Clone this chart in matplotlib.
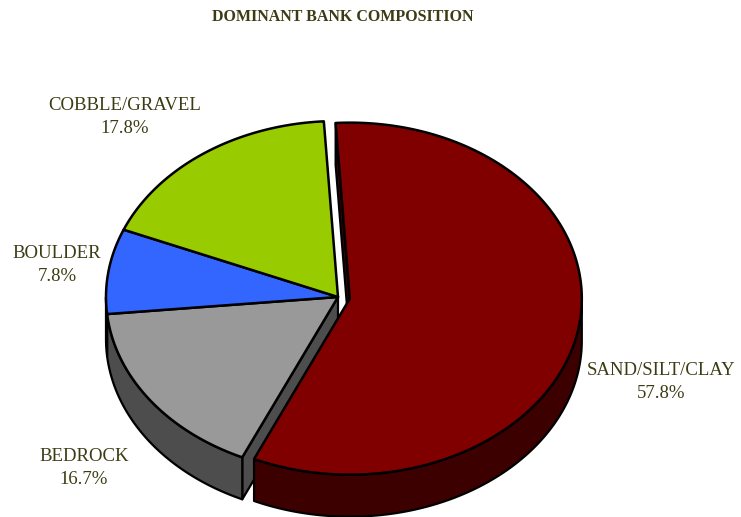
import numpy as np
import matplotlib.pyplot as plt
from matplotlib.patches import Polygon

labels = ['SAND/SILT/CLAY', 'BEDROCK', 'BOULDER', 'COBBLE/GRAVEL']
values = [57.8, 16.7, 7.8, 17.8]
top_colors = ['#800000', '#999999', '#3366ff', '#99cc00']
side_colors = ['#3d0000', '#4d4d4d', '#1a337f', '#4c6600']
explode = [12, 0, 0, 0]
label_pos = [(661, 382), (84, 468), (57, 265), (125, 117)]

txt_color = '#3c3c14'
cx, cy = 338, 297
rx, ry = 232, 176
depth = 42
start = 93.5

fig = plt.figure(figsize=(7.41, 5.17), dpi=100)
ax = fig.add_axes([0, 0, 1, 1])
ax.set_xlim(0, 741)
ax.set_ylim(517, 0)
ax.axis('off')


def pt(a, ox, oy):
    r = np.radians(a)
    return cx + ox + rx * np.cos(r), cy + oy - ry * np.sin(r)


# slice angle ranges, clockwise from the start angle
total = sum(values)
slices = []
a = start
for i, v in enumerate(values):
    sweep = v / total * 360
    a0, a1 = a - sweep, a
    mid = np.radians((a0 + a1) / 2)
    ox = explode[i] * np.cos(mid)
    oy = -explode[i] * np.sin(mid) * ry / rx
    slices.append((a0, a1, ox, oy))
    a = a0

order = [j for j in range(len(values)) if explode[j] == 0] + \
        [j for j in range(len(values)) if explode[j] != 0]

# side walls
for i in order:
    a0, a1, ox, oy = slices[i]
    n = len(values)
    # radial faces next to an exploded slice
    nb_next = (i - 1) % n
    nb_prev = (i + 1) % n
    for edge, nb, sign in [(a1, nb_next, -1), (a0, nb_prev, 1)]:
        if explode[i] == 0 and explode[nb] == 0:
            continue
        c = np.cos(np.radians(edge))
        if (sign == -1 and c < 0) or (sign == 1 and c > 0):
            px, py = pt(edge, ox, oy)
            quad = [(cx + ox, cy + oy), (px, py), (px, py + depth),
                    (cx + ox, cy + oy + depth)]
            ax.add_patch(Polygon(quad, closed=True, fc=side_colors[i],
                                 ec='black', lw=1.6, joinstyle='round'))
    # outer arc wall (front part only)
    th = np.linspace(a0, a1, 400)
    front = np.sin(np.radians(th)) <= 0
    if front.any():
        idx = np.where(front)[0]
        runs = np.split(idx, np.where(np.diff(idx) > 1)[0] + 1)
        for run in runs:
            xs, ys = pt(th[run], ox, oy)
            poly = list(zip(xs, ys)) + list(zip(xs[::-1], ys[::-1] + depth))
            ax.add_patch(Polygon(poly, closed=True, fc=side_colors[i],
                                 ec='black', lw=1.6, joinstyle='round'))

# tops
for i in order:
    a0, a1, ox, oy = slices[i]
    th = np.linspace(a0, a1, 400)
    xs, ys = pt(th, ox, oy)
    poly = [(cx + ox, cy + oy)] + list(zip(xs, ys))
    ax.add_patch(Polygon(poly, closed=True, fc=top_colors[i],
                         ec='black', lw=1.8, joinstyle='round'))

for lab, v, (lx, ly) in zip(labels, values, label_pos):
    ax.text(lx, ly, f'{lab}\n{v:.1f}%', ha='center', va='center',
            family='Liberation Serif', fontsize=13.5, color=txt_color,
            linespacing=1.45)

ax.text(343, 17, 'DOMINANT BANK COMPOSITION', ha='center', va='center',
        family='Liberation Serif', fontsize=11.5, fontweight='bold',
        color=txt_color)

fig.savefig('out.png', dpi=100)
